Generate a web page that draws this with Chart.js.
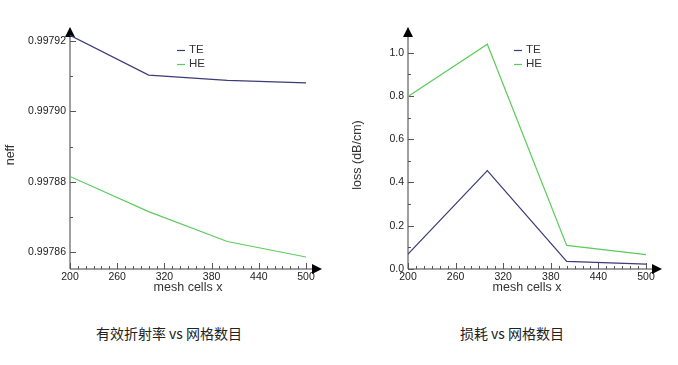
<!DOCTYPE html>
<html>
<head>
<meta charset="utf-8">
<script src="https://cdn.jsdelivr.net/npm/chart.js@4/dist/chart.umd.min.js"></script>
<style>
  body { margin: 0; background: #fff; }
  #wrap { position: relative; width: 678px; height: 365px; overflow: hidden; }
  canvas { position: absolute; top: 0; }
  .caption { position: absolute; top: 323px; font: 14px "Noto Sans CJK SC", sans-serif; color: #222; white-space: nowrap; transform: translateX(-50%); }
</style>
</head>
<body>
<div id="wrap">
  <canvas id="neffChart" width="340" height="300" style="left:0"></canvas>
  <canvas id="lossChart" width="338" height="300" style="left:340px"></canvas>
  <div class="caption" style="left:169px">有效折射率 vs 网格数目</div>
  <div class="caption" style="left:512px">损耗 vs 网格数目</div>
</div>
<script>
// data
const meshCells = [200, 300, 400, 500];
const neffTE = [0.9979216, 0.9979103, 0.9979088, 0.9979081];
const neffHE = [0.9978815, 0.9978715, 0.9978630, 0.9978586];
const lossTE = [0.069, 0.455, 0.035, 0.023];
const lossHE = [0.798, 1.039, 0.109, 0.066];

const xTicks = [];
for (let v = 200; v <= 500; v += 10) xTicks.push(v);
const neffTicks = [0.99786, 0.99787, 0.99788, 0.99789, 0.99790, 0.99791, 0.99792];
const lossTicks = [0, 0.1, 0.2, 0.3, 0.4, 0.5, 0.6, 0.7, 0.8, 0.9, 1.0];

const teColor = '#3b3b78';
const heColor = '#5ccc5c';
const axisColor = '#808080';
const font = 'Liberation Sans, Arial, sans-serif';

// axes with arrows, inner tick marks, legend and axis titles
const decor = {
    id: 'decor',
    beforeDatasetsDraw(chart, args, opts) {
        const ctx = chart.ctx;
        const a = chart.chartArea;
        const xs = chart.scales.x, ys = chart.scales.y;
        ctx.save();
        ctx.strokeStyle = axisColor;
        ctx.lineWidth = 1.5;
        ctx.beginPath();
        ctx.moveTo(a.left, a.bottom);
        ctx.lineTo(a.left, a.top - 2);
        ctx.moveTo(a.left, a.bottom);
        ctx.lineTo(a.right + 8, a.bottom);
        ctx.stroke();

        ctx.lineWidth = 1;
        ctx.strokeStyle = '#555';
        ctx.beginPath();
        xs.ticks.forEach(t => {
            const px = Math.round(xs.getPixelForValue(t.value)) + 0.5;
            const len = opts.xMajor(t.value) ? 6 : 3;
            ctx.moveTo(px, a.bottom);
            ctx.lineTo(px, a.bottom - len);
        });
        ys.ticks.forEach(t => {
            const py = Math.round(ys.getPixelForValue(t.value)) + 0.5;
            const len = opts.yMajor(t.value) ? 6 : 3;
            ctx.moveTo(a.left, py);
            ctx.lineTo(a.left + len, py);
        });
        ctx.stroke();

        // arrows
        ctx.fillStyle = '#000';
        ctx.beginPath();
        ctx.moveTo(a.left, a.top - 3);
        ctx.lineTo(a.left - 5, a.top + 7);
        ctx.lineTo(a.left + 5, a.top + 7);
        ctx.closePath();
        ctx.fill();
        ctx.beginPath();
        ctx.moveTo(a.right + 16, a.bottom);
        ctx.lineTo(a.right + 6, a.bottom - 5);
        ctx.lineTo(a.right + 6, a.bottom + 5);
        ctx.closePath();
        ctx.fill();
        ctx.restore();
    },
    afterDraw(chart, args, opts) {
        const ctx = chart.ctx;
        const a = chart.chartArea;
        ctx.save();
        // legend
        ctx.font = '11.5px ' + font;
        ctx.textBaseline = 'middle';
        chart.data.datasets.forEach((ds, i) => {
            const lx = a.left + opts.legendDx, ly = a.top + 20 + i * 14;
            ctx.strokeStyle = ds.borderColor;
            ctx.lineWidth = 1.2;
            ctx.beginPath();
            ctx.moveTo(lx, ly + 0.5);
            ctx.lineTo(lx + 8, ly + 0.5);
            ctx.stroke();
            ctx.fillStyle = '#333';
            ctx.fillText(ds.label, lx + 12, ly);
        });
        // titles
        ctx.fillStyle = '#333';
        ctx.font = '12.5px ' + font;
        ctx.textAlign = 'center';
        ctx.fillText('mesh cells x', (a.left + a.right) / 2, a.bottom + 19);
        ctx.translate(opts.yTitleX, 155);
        ctx.rotate(-Math.PI / 2);
        ctx.fillText(opts.yTitle, 0, 0);
        ctx.restore();
    }
};

const makeChart = (id, te, he, yMin, yMax, yTickList, yLabel, yMajor, yWidth, rightPad, yTitle, yTitleX, legendDx) => {
    return new Chart(document.getElementById(id), {
        type: 'line',
        data: {
            datasets: [
                { label: 'TE', data: meshCells.map((x, i) => ({ x: x, y: te[i] })), borderColor: teColor, borderWidth: 1.2, pointRadius: 0, tension: 0 },
                { label: 'HE', data: meshCells.map((x, i) => ({ x: x, y: he[i] })), borderColor: heColor, borderWidth: 1.2, pointRadius: 0, tension: 0 }
            ]
        },
        options: {
            responsive: false,
            animation: false,
            layout: { padding: { left: 0, top: 30, right: rightPad, bottom: 0 } },
            plugins: {
                legend: { display: false },
                tooltip: { enabled: false },
                decor: {
                    xMajor: v => (v - 200) % 60 === 0,
                    yMajor: yMajor,
                    yTitle: yTitle,
                    yTitleX: yTitleX,
                    legendDx: legendDx
                }
            },
            scales: {
                x: {
                    type: 'linear',
                    min: 200,
                    max: 500,
                    afterBuildTicks: s => { s.ticks = xTicks.map(v => ({ value: v })); },
                    afterFit: s => { s.height = 31; },
                    grid: { display: false, drawTicks: false },
                    border: { display: false },
                    ticks: {
                        autoSkip: false, maxRotation: 0, padding: 2,
                        color: '#222', font: { family: font, size: 10.5 },
                        callback: v => ((v - 200) % 60 === 0 ? String(v) : '')
                    }
                },
                y: {
                    type: 'linear',
                    min: yMin,
                    max: yMax,
                    afterBuildTicks: s => { s.ticks = yTickList.map(v => ({ value: v })); },
                    afterFit: s => { s.width = yWidth; },
                    grid: { display: false, drawTicks: false },
                    border: { display: false },
                    ticks: {
                        autoSkip: false, padding: 4,
                        color: '#222', font: { family: font, size: 10.5 },
                        callback: v => (yMajor(v) ? yLabel(v) : '')
                    }
                }
            }
        },
        plugins: [decor]
    });
};

makeChart('neffChart', neffTE, neffHE, 0.9978552, 0.9979231, neffTicks,
    v => v.toFixed(5), v => Math.round(v * 1e5) % 2 === 0, 70, 34, 'neff', 11, 107);
makeChart('lossChart', lossTE, lossHE, 0, 1.105, lossTicks,
    v => v.toFixed(1), v => Math.round(v * 10) % 2 === 0, 68, 32, 'loss (dB/cm)', 18, 106);
</script>
</body>
</html>
